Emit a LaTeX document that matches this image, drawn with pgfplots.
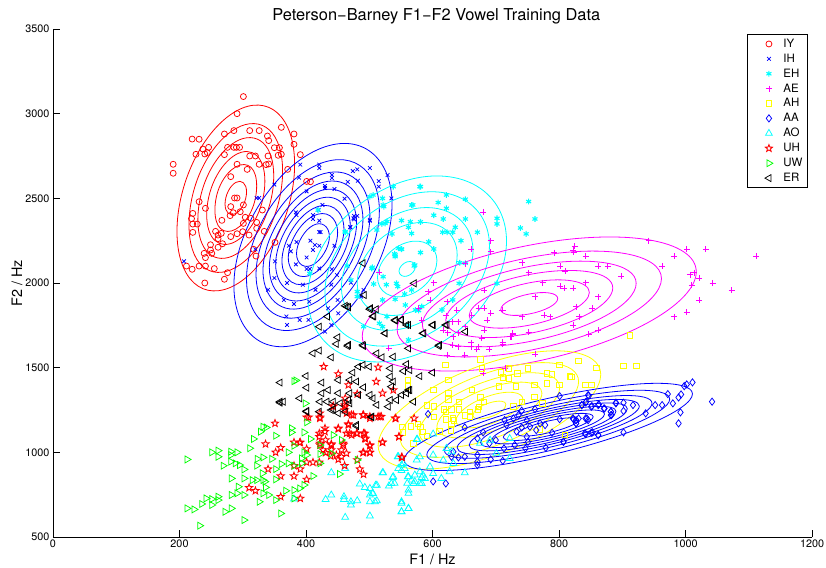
\documentclass[border=0pt]{standalone}
\usepackage{fontspec}
\setmainfont{TeX Gyre Heros}
\usepackage{pgfplots}
\pgfplotsset{compat=1.18}
\definecolor{cyan}{rgb}{0,1,1}
\definecolor{magenta}{rgb}{1,0,1}
\definecolor{yellow}{rgb}{1,1,0}
\definecolor{green}{rgb}{0,1,0}
\definecolor{blue}{rgb}{0,0,1}
\definecolor{red}{rgb}{1,0,0}
\pgfdeclareplotmark{ostar}{%
  \pgfpathmoveto{\pgfpointpolar{90}{\pgfplotmarksize}}%
  \pgfpathlineto{\pgfpointpolar{126}{.42\pgfplotmarksize}}%
  \pgfpathlineto{\pgfpointpolar{162}{\pgfplotmarksize}}%
  \pgfpathlineto{\pgfpointpolar{198}{.42\pgfplotmarksize}}%
  \pgfpathlineto{\pgfpointpolar{234}{\pgfplotmarksize}}%
  \pgfpathlineto{\pgfpointpolar{270}{.42\pgfplotmarksize}}%
  \pgfpathlineto{\pgfpointpolar{306}{\pgfplotmarksize}}%
  \pgfpathlineto{\pgfpointpolar{342}{.42\pgfplotmarksize}}%
  \pgfpathlineto{\pgfpointpolar{18}{\pgfplotmarksize}}%
  \pgfpathlineto{\pgfpointpolar{54}{.42\pgfplotmarksize}}%
  \pgfpathclose\pgfusepathqstroke}
\pgfplotsset{
  pts/.style={only marks, mark options={solid, line width=.75pt}},
  ring/.style={forget plot, no markers, solid, smooth cycle, tension=.675, line width=.8pt, color=#1},
}
\begin{document}
\begin{tikzpicture}
\path[use as bounding box] (-53pt,-30pt) rectangle (773pt,537pt);
\begin{axis}[
  at={(0pt,0pt)}, anchor=south west,
  scale only axis, width=759pt, height=508pt,
  xmin=0, xmax=1200, ymin=500, ymax=3500,
  xtick={0,200,400,600,800,1000,1200},
  ytick={500,1000,1500,2000,2500,3000,3500},
  axis x line*=bottom, axis y line*=left,
  tick align=inside, major tick length=7pt,
  axis line style={line width=.6pt}, tick style={line width=.5pt, black},
  /pgf/number format/assume math mode=true,
  /pgf/number format/1000 sep={},
  tick label style={font=\fontsize{10.8}{12}\selectfont},
  xticklabel style={yshift=1pt},
  label style={font=\fontsize{14.4}{16}\selectfont},
  xlabel={F1 / Hz}, ylabel={F2 / Hz},
  xlabel style={at={(axis description cs:0.5,0)},anchor=north,yshift=-13.5pt},
  ylabel style={at={(axis description cs:0,0.5)},anchor=south,yshift=27pt},
  title={Peterson−Barney F1−F2 Vowel Training Data},
  title style={font=\fontsize{16.4}{18}\selectfont, at={(axis description cs:0.505,1)},anchor=south,yshift=-5pt},
  clip=false,
  legend image code/.code={\path (-18pt,0pt) (4pt,0pt);\draw[#1] plot coordinates {(0pt,0pt)};},
  legend style={at={(0.9947,0.990)},anchor=north east,draw=black,line width=.9pt,
    font=\fontsize{11.5}{12}\selectfont, inner xsep=3pt, inner ysep=2.5pt, row sep=1.0pt,
    /tikz/column 1/.style={column sep=8pt}},
  legend cell align=left,
]
% IY
\addplot[pts,red,mark=o,mark size=3pt] coordinates {
(301,3101)(291,3000)(220,2850)(231,2849)(271,2880)(286,2900)(311,2900)(326,2900)(361,2919)(381,2880)(339,2868)(341,2841)(381,2819)(237,2791)(246,2801)(226,2760)(240,2762)(244,2770)(276,2801)(286,2801)(290,2801)(295,2801)(271,2758)(311,2750)(320,2750)(350,2799)(358,2799)(340,2750)(356,2754)(361,2760)(391,2758)(291,2701)(326,2701)(337,2699)(341,2703)(307,2671)(371,2671)(190,2701)(190,2648)(281,2628)(401,2600)(407,2598)(231,2480)(287,2502)(291,2502)(241,2441)(281,2451)(301,2461)(285,2415)(280,2398)(296,2421)(331,2431)(221,2411)(219,2380)(221,2348)(228,2348)(267,2370)(304,2388)(313,2382)(301,2352)(322,2358)(221,2299)(257,2305)(266,2293)(261,2283)(281,2274)(291,2291)(300,2303)(322,2323)(334,2305)(310,2283)(268,2232)(261,2262)(249,2226)(261,2211)(351,2240)(239,2175)(249,2195)(251,2175)(241,2150)(317,2199)(321,2159)(211,2100)(220,2081)(231,2100)(241,2100)(255,2085)(276,2061)(271,2022)(240,2000)};
\addlegendentry{IY}
\addplot[ring=red] coordinates {(382,2700)(355,3004)(289,3014)(223,2724)(196,2304)(223,2000)(289,1990)(355,2280)};
\addplot[ring=red] coordinates {(363,2660)(342,2904)(289,2912)(236,2680)(215,2344)(236,2100)(289,2092)(342,2324)};
\addplot[ring=red] coordinates {(349,2631)(332,2828)(289,2835)(246,2646)(229,2373)(246,2176)(289,2169)(332,2358)};
\addplot[ring=red] coordinates {(335,2601)(322,2753)(289,2758)(256,2613)(243,2403)(256,2251)(289,2246)(322,2391)};
\addplot[ring=red] coordinates {(322,2573)(313,2683)(289,2686)(265,2582)(256,2431)(265,2321)(289,2318)(313,2422)};
\addplot[ring=red] coordinates {(306,2538)(301,2592)(289,2594)(277,2542)(272,2466)(277,2412)(289,2410)(301,2462)};
% IH
\addplot[pts,blue,mark=x,mark size=2.6pt] coordinates {
(207,2128)(322,2502)(326,2502)(350,2581)(320,2199)(391,2699)(421,2699)(421,2679)(389,2622)(501,2679)(474,2661)(481,2671)(441,2638)(441,2620)(529,2638)(515,2602)(515,2569)(401,2541)(430,2573)(430,2561)(445,2555)(466,2597)(482,2604)(535,2500)(461,2498)(420,2431)(426,2461)(384,2417)(385,2401)(411,2401)(411,2378)(421,2368)(476,2396)(481,2396)(476,2376)(501,2368)(470,2331)(421,2301)(423,2301)(407,2250)(414,2224)(421,2220)(373,2220)(385,2242)(376,2187)(411,2195)(445,2220)(351,2128)(401,2151)(384,2110)(401,2083)(421,2086)(441,2081)(350,2029)(449,2047)(406,2083)(381,1876)(369,1802)(370,1752)(390,1782)(404,1782)(435,1851)(451,1821)(440,1752)(430,1713)(475,2382)(470,2329)(501,2373)(471,2002)(491,1959)(487,1920)(370,2000)(395,1990)(340,1960)(415,1960)(440,1990)(450,1900)(365,1900)(405,1890)};
\addlegendentry{IH}
\addplot[ring=blue] coordinates {(536,2464)(499,2783)(411,2774)(323,2443)(286,1984)(323,1665)(411,1674)(499,2005)};
\addplot[ring=blue] coordinates {(516,2426)(485,2694)(411,2686)(337,2408)(306,2022)(337,1754)(411,1762)(485,2040)};
\addplot[ring=blue] coordinates {(501,2397)(474,2626)(411,2620)(348,2382)(321,2051)(348,1822)(411,1828)(474,2066)};
\addplot[ring=blue] coordinates {(490,2375)(466,2576)(411,2571)(356,2362)(332,2073)(356,1872)(411,1877)(466,2086)};
\addplot[ring=blue] coordinates {(480,2356)(459,2531)(411,2527)(363,2344)(342,2092)(363,1917)(411,1921)(459,2104)};
\addplot[ring=blue] coordinates {(470,2337)(452,2487)(411,2483)(370,2327)(352,2111)(370,1961)(411,1965)(452,2121)};
\addplot[ring=blue] coordinates {(460,2318)(445,2442)(411,2439)(377,2309)(362,2130)(377,2006)(411,2009)(445,2139)};
\addplot[ring=blue] coordinates {(450,2298)(438,2397)(411,2395)(384,2292)(372,2150)(384,2051)(411,2053)(438,2156)};
\addplot[ring=blue] coordinates {(437,2274)(429,2341)(411,2340)(393,2270)(385,2174)(393,2107)(411,2108)(429,2178)};
% EH
\addplot[pts,cyan,mark=asterisk,mark size=2.9pt,mark options={solid,line width=1.1pt}] coordinates {
(581,2569)(752,2481)(762,2378)(739,2325)(748,2290)(622,2520)(652,2495)(569,2461)(609,2475)(622,2441)(602,2400)(617,2378)(652,2378)(702,2382)(702,2349)(551,2369)(581,2361)(562,2329)(636,2329)(632,2300)(616,2300)(623,2300)(671,2300)(536,2290)(594,2243)(645,2250)(602,2201)(551,2201)(581,2180)(540,2172)(541,2156)(643,2120)(571,2101)(505,2093)(652,2117)(506,2520)(521,2500)(523,2451)(528,2363)(520,2349)(512,2313)(462,2300)(465,2101)(471,2018)(527,1990)(543,1998)(545,1979)(507,1994)(642,1998)(702,1998)(567,1959)(556,1935)(521,1900)(541,1904)(557,1870)(481,1949)(481,1920)(583,1861)(573,1841)(578,1837)(632,1900)(615,1841)(528,1802)(516,1762)(521,1742)(562,1752)(562,1664)(491,1742)(419,2431)(406,2057)(462,2303)(501,2510)(522,2461)(538,2569)(567,2461)(580,2569)(525,2352)(565,2362)(546,2205)(551,2199)(541,2165)(572,2106)(504,2086)(522,2037)(567,2293)};
\addlegendentry{EH}
\addplot[ring=cyan] coordinates {(717,2248)(671,2570)(560,2607)(449,2337)(403,1918)(449,1596)(560,1559)(671,1829)};
\addplot[ring=cyan] coordinates {(690,2220)(652,2487)(560,2518)(468,2294)(430,1946)(468,1679)(560,1648)(652,1872)};
\addplot[ring=cyan] coordinates {(664,2192)(633,2404)(560,2429)(487,2251)(456,1974)(487,1762)(560,1737)(633,1915)};
\addplot[ring=cyan] coordinates {(639,2166)(616,2327)(560,2345)(504,2210)(481,2000)(504,1839)(560,1821)(616,1956)};
\addplot[ring=cyan] coordinates {(607,2133)(593,2229)(560,2240)(527,2159)(513,2033)(527,1937)(560,1926)(593,2007)};
\addplot[ring=cyan] coordinates {(573,2096)(569,2122)(560,2125)(551,2103)(547,2070)(551,2044)(560,2041)(569,2063)};
% AE
\addplot[pts,magenta,mark=+,mark size=3pt] coordinates {
(942,2250)(1002,2199)(1032,2199)(982,2159)(1112,2159)(825,2218)(822,2195)(823,2181)(792,2179)(842,2159)(963,2100)(802,2100)(862,2100)(877,2100)(742,2120)(810,2071)(752,2061)(898,2039)(1014,2061)(1007,2049)(1022,2029)(774,2002)(842,2002)(1043,2000)(1010,1988)(802,1980)(808,1968)(822,1968)(1073,1958)(762,1919)(862,1919)(1022,1899)(827,1860)(852,1852)(710,1840)(777,1809)(786,1801)(832,1801)(742,1801)(982,1801)(1002,1828)(822,1750)(862,1722)(847,1698)(752,1708)(727,1696)(723,1683)(711,1649)(762,1578)(715,1496)(680,2420)(692,2250)(661,2201)(692,2185)(652,2113)(602,2002)(516,2065)(593,1949)(682,1959)(596,1900)(623,1890)(673,1851)(682,1851)(692,1821)(711,1841)(622,1807)(638,1841)(662,1811)(686,1782)(631,1772)(641,1772)(652,1742)(682,1723)(617,1723)(624,1707)(641,1707)(727,1703)(752,1709)(724,1683)(678,1673)(711,1648)(633,1683)(661,1648)(632,1634)(661,1624)(673,1624)(641,1624)(531,1614)(583,1782)(578,1851)(680,1468)(623,1575)(651,1575)(670,1610)(690,1610)(711,1640)};
\addlegendentry{AE}
\addplot[ring=magenta] coordinates {(1017,2066)(940,2256)(753,2223)(566,1987)(489,1686)(566,1496)(753,1529)(940,1765)};
\addplot[ring=magenta] coordinates {(962,2026)(901,2176)(753,2150)(605,1964)(544,1726)(605,1576)(753,1602)(901,1788)};
\addplot[ring=magenta] coordinates {(922,1998)(873,2119)(753,2098)(633,1947)(584,1754)(633,1633)(753,1654)(873,1805)};
\addplot[ring=magenta] coordinates {(885,1971)(847,2066)(753,2050)(659,1932)(621,1781)(659,1686)(753,1702)(847,1820)};
\addplot[ring=magenta] coordinates {(848,1944)(820,2013)(753,2001)(686,1916)(658,1808)(686,1739)(753,1751)(820,1836)};
\addplot[ring=magenta] coordinates {(798,1908)(785,1941)(753,1935)(721,1895)(708,1844)(721,1811)(753,1817)(785,1857)};
% AH
\addplot[pts,yellow,mark=square,mark size=2.8pt] coordinates {
(831,1539)(620,1517)(676,1549)(678,1496)(801,1517)(859,1498)(708,1472)(721,1496)(751,1496)(734,1468)(781,1468)(789,1462)(817,1450)(820,1446)(711,1442)(721,1437)(625,1427)(561,1427)(561,1391)(601,1370)(625,1352)(662,1370)(705,1391)(732,1389)(761,1399)(781,1409)(801,1399)(842,1399)(851,1399)(625,1313)(642,1297)(676,1324)(681,1299)(673,1269)(672,1255)(761,1328)(741,1299)(774,1289)(728,1273)(591,1277)(602,1273)(602,1210)(618,1253)(621,1240)(630,1253)(642,1253)(621,1194)(632,1200)(634,1190)(651,1220)(659,1240)(659,1214)(577,1167)(566,1155)(581,1151)(552,1151)(553,1118)(585,1120)(591,1098)(611,1122)(630,1167)(629,1131)(570,1053)(770,1135)(809,1102)(902,1510)(922,1510)(912,1689)};
\addlegendentry{AH}
\addplot[ring=yellow] coordinates {(866,1460)(814,1596)(690,1530)(566,1300)(514,1040)(566,904)(690,970)(814,1200)};
\addplot[ring=yellow] coordinates {(831,1418)(789,1527)(690,1474)(591,1290)(549,1082)(591,973)(690,1026)(789,1210)};
\addplot[ring=yellow] coordinates {(801,1382)(768,1468)(690,1426)(612,1282)(579,1118)(612,1032)(690,1074)(768,1218)};
\addplot[ring=yellow] coordinates {(773,1349)(748,1413)(690,1382)(632,1274)(607,1151)(632,1087)(690,1118)(748,1226)};
\addplot[ring=yellow] coordinates {(743,1313)(727,1354)(690,1334)(653,1265)(637,1187)(653,1146)(690,1166)(727,1235)};
\addplot[ring=yellow] coordinates {(716,1282)(709,1302)(690,1292)(671,1258)(664,1218)(671,1198)(690,1208)(709,1242)};
% AA
\addplot[pts,blue,mark=diamond,mark size=3.6pt] coordinates {
(593,1226)(801,1332)(846,1338)(801,1196)(836,1279)(842,1295)(851,1269)(862,1279)(871,1259)(882,1240)(890,1289)(883,1220)(762,1255)(822,1200)(827,1190)(827,1171)(842,1200)(846,1190)(789,1116)(807,1062)(779,1027)(841,1112)(851,1116)(862,1102)(651,1147)(680,1118)(671,1082)(700,1072)(690,1053)(714,1190)(717,1161)(728,1200)(736,1220)(741,1246)(749,1190)(754,1151)(741,1147)(733,1122)(749,1092)(751,1062)(747,1023)(730,1043)(713,1023)(711,950)(692,958)(671,984)(671,944)(671,925)(651,974)(641,970)(630,974)(633,1003)(601,828)(621,816)(770,1171)(778,1161)(764,1131)(1011,1413)(1002,1401)(998,1391)(972,1344)(993,1342)(989,1324)(980,1289)(952,1279)(963,1279)(937,1230)(992,1236)(989,1171)(1042,1299)(917,1279)(902,1293)(890,1293)(902,1244)(882,1240)(882,1220)(872,1259)(863,1283)(852,1273)(847,1334)(836,1279)(843,1299)(902,1118)(862,1102)(853,1118)(842,1108)(823,1196)(831,1200)(827,1171)(844,1200)(807,1062)};
\addlegendentry{AA}
\addplot[ring=blue] coordinates {(1011,1345)(944,1407)(783,1319)(622,1132)(555,955)(622,893)(783,981)(944,1168)};
\addplot[ring=blue] coordinates {(975,1314)(918,1366)(783,1292)(648,1135)(591,986)(648,934)(783,1008)(918,1165)};
\addplot[ring=blue] coordinates {(947,1290)(899,1335)(783,1272)(667,1137)(619,1010)(667,965)(783,1028)(899,1163)};
\addplot[ring=blue] coordinates {(927,1273)(884,1312)(783,1256)(682,1139)(639,1027)(682,988)(783,1044)(884,1161)};
\addplot[ring=blue] coordinates {(908,1257)(872,1291)(783,1243)(694,1140)(658,1043)(694,1009)(783,1057)(872,1160)};
\addplot[ring=blue] coordinates {(890,1242)(859,1271)(783,1229)(707,1142)(676,1058)(707,1029)(783,1071)(859,1158)};
\addplot[ring=blue] coordinates {(872,1226)(846,1250)(783,1216)(720,1143)(694,1074)(720,1050)(783,1084)(846,1157)};
\addplot[ring=blue] coordinates {(854,1210)(833,1230)(783,1202)(733,1144)(712,1090)(733,1070)(783,1098)(833,1156)};
\addplot[ring=blue] coordinates {(831,1191)(817,1204)(783,1185)(749,1146)(735,1109)(749,1096)(783,1115)(817,1154)};
% AO
\addplot[pts,cyan,mark=triangle,mark size=4pt] coordinates {
(440,880)(462,905)(381,724)(431,722)(440,748)(460,738)(460,722)(471,708)(471,689)(481,714)(501,708)(512,714)(501,748)(505,758)(510,805)(485,813)(493,793)(501,787)(521,880)(531,801)(537,852)(540,817)(545,974)(546,905)(551,925)(551,892)(561,856)(560,817)(562,777)(562,758)(572,827)(580,817)(583,852)(588,846)(576,1077)(575,955)(551,699)(562,669)(551,649)(462,616)(501,624)(601,1108)(575,1076)(546,974)(580,974)(601,984)(622,1023)(630,1003)(556,905)(554,934)(596,915)(580,885)(572,866)(585,866)(562,856)(567,836)(570,816)(583,816)(601,875)(614,846)(627,885)(651,879)(633,934)(617,954)(675,1053)(691,1072)(722,1082)(701,994)(722,964)(538,856)(535,816)(522,879)(512,806)(506,757)(509,708)(551,708)(562,669)(551,649)};
\addlegendentry{AO}
% UH
\addplot[pts,red,mark=ostar,mark size=3.8pt,mark options={solid,line width=.85pt}] coordinates {
(351,1171)(336,1049)(360,1027)(352,1000)(381,1059)(391,1059)(401,1020)(381,921)(391,901)(340,901)(360,860)(381,860)(401,840)(310,791)(320,773)(360,738)(391,728)(401,941)(411,941)(421,941)(461,921)(481,955)(485,901)(491,870)(491,1000)(501,1000)(501,1039)(521,1059)(547,1092)(552,970)(494,1079)(491,1112)(480,1112)(467,1167)(451,1138)(464,1112)(472,1102)(430,1142)(430,1122)(421,1112)(421,1092)(431,1073)(422,1043)(440,1049)(459,1053)(456,1014)(440,1014)(427,1014)(448,984)(456,974)(464,994)(451,958)(439,978)(431,998)(404,1207)(422,1207)(443,1274)(461,1279)(461,1250)(475,1220)(490,1220)(514,1211)(501,1201)(519,1211)(542,1201)(571,1201)(428,1506)(451,1463)(514,1502)(511,1418)(467,1398)(521,1349)(538,1368)(481,1345)(462,1319)(443,1270)(462,1270)(464,1231)(422,1231)(422,1201)(401,1207)(472,1221)(491,1221)(501,1211)(517,1211)(541,1201)(547,1093)(521,1059)(551,971)(451,1142)(467,1162)(469,1112)(481,1112)(493,1112)(493,1083)(501,1043)(490,998)(501,998)(422,1053)(440,1043)(459,1043)(390,1057)};
\addlegendentry{UH}
% UW
\addplot[pts,green,mark=triangle,mark size=4pt,mark options={solid,rotate=-90,line width=.75pt}] coordinates {
(212,958)(251,1000)(261,1010)(261,974)(281,1004)(291,1000)(281,984)(281,945)(269,921)(288,935)(295,925)(302,899)(282,846)(302,846)(317,1079)(328,1122)(332,1151)(337,1147)(352,1098)(377,1142)(377,1118)(397,1118)(401,1177)(399,1289)(407,1079)(311,1024)(372,1000)(381,1039)(397,1000)(401,984)(323,961)(332,970)(346,961)(322,921)(361,931)(372,935)(393,964)(393,935)(352,901)(331,876)(352,840)(315,836)(322,836)(332,836)(335,827)(293,797)(336,793)(332,758)(291,758)(282,748)(302,748)(341,748)(326,708)(352,718)(368,773)(381,777)(390,787)(381,728)(397,807)(411,860)(443,1102)(456,1073)(422,1043)(422,990)(440,994)(422,935)(453,872)(481,955)(242,728)(235,695)(251,724)(251,689)(261,738)(261,718)(212,669)(223,663)(272,649)(282,669)(360,639)(302,600)(232,567)(381,921)(381,1420)(384,1425)};
\addlegendentry{UW}
% ER
\addplot[pts,black,mark=triangle,mark size=4pt,mark options={solid,rotate=90,line width=.75pt}] coordinates {
(359,1412)(359,1299)(364,1299)(390,1319)(400,1451)(401,1382)(425,1412)(411,1585)(421,1601)(440,1561)(421,1742)(450,1679)(448,1640)(467,1634)(490,1634)(434,1802)(462,1865)(467,1857)(502,1851)(506,1802)(525,1703)(541,1778)(550,1782)(562,1752)(585,1703)(601,1752)(621,1752)(611,1634)(512,1585)(520,1561)(538,1565)(490,1516)(500,1506)(533,1496)(564,1486)(600,1471)(474,1471)(483,1506)(451,1427)(469,1427)(480,1418)(533,1447)(538,1418)(425,1349)(435,1368)(451,1349)(422,1299)(433,1299)(443,1299)(454,1290)(469,1349)(483,1339)(491,1384)(501,1339)(506,1319)(512,1280)(467,1309)(469,1290)(462,1240)(451,1231)(440,1250)(401,1240)(533,1309)(543,1309)(551,1339)(564,1368)(570,1299)(530,1270)(504,1211)(480,1162)(535,1388)(559,1349)(359,1293)(401,1244)(421,1240)(443,1254)(480,1155)(504,1207)(490,2117)(571,1998)(465,1860)(507,1805)(511,1845)(501,1845)(541,1782)(551,1782)(559,1752)(525,1703)(586,1703)(600,1752)(623,1752)(652,1713)(610,1628)(491,1628)(466,1628)(492,1929)(562,1614)(580,1450)(562,1368)(554,1480)(559,1521)};
\addlegendentry{ER}
\end{axis}
\end{tikzpicture}
\end{document}
